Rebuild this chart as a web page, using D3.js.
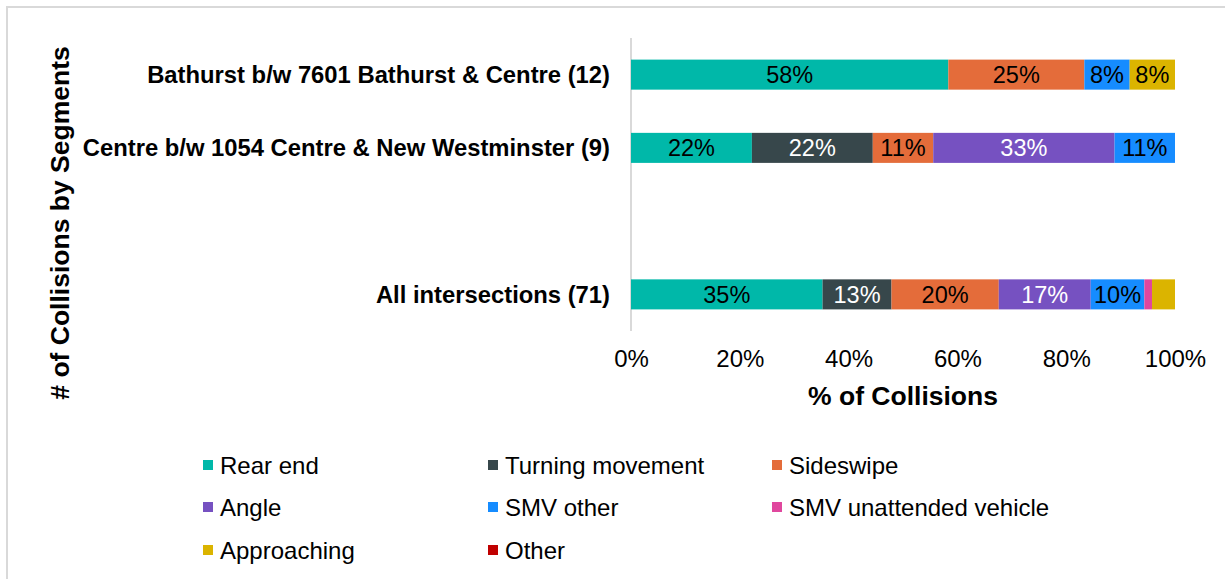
<!DOCTYPE html>
<html>
<head>
<meta charset="utf-8">
<script src="https://cdn.jsdelivr.net/npm/d3@7"></script>
<style>
  body { margin: 0; background: #fff; }
  text { font-family: "Liberation Sans", Arial, sans-serif; }
</style>
</head>
<body>
<div class="chart"></div>
<script>
// categories (top to bottom), "" is the empty slot between them
const categories = [
  "Bathurst b/w 7601 Bathurst & Centre (12)",
  "Centre b/w 1054 Centre & New Westminster (9)",
  "",
  "All intersections (71)"
];
const seriesNames = ["Rear end", "Turning movement", "Sideswipe", "Angle",
  "SMV other", "SMV unattended vehicle", "Approaching", "Other"];
const seriesColors = ["#00B8A9", "#37474B", "#E46C3A", "#7651C1",
  "#168CFF", "#E0479E", "#DBB400", "#C00000"];
// share of collisions per category, in series order
const bathurstValues = [7/12, 0, 3/12, 0, 1/12, 0, 1/12, 0];
const centreValues = [2/9, 2/9, 1/9, 3/9, 1/9, 0, 0, 0];
const allValues = [25/71, 9/71, 14/71, 12/71, 7/71, 1/71, 3/71, 0];
const xTicks = [0, 0.2, 0.4, 0.6, 0.8, 1];

const rows = [
  {cat: categories[0], values: bathurstValues},
  {cat: categories[1], values: centreValues},
  {cat: categories[3], values: allValues}
];

const W = 1225, H = 579;
const svg = d3.select(".chart").append("svg")
  .attr("width", W).attr("height", H);

// outer chart frame (runs off the right and bottom edges)
svg.append("rect")
  .attr("x", 7).attr("y", 7)
  .attr("width", W + 20).attr("height", H + 20)
  .attr("fill", "none").attr("stroke", "#d9d9d9").attr("stroke-width", 2);

const x = d3.scaleLinear().domain([0, 1]).range([631, 1175]);
const y = d3.scaleBand().domain(categories).range([38, 331]).paddingInner(0.59).paddingOuter(0.295);

// y axis line
svg.append("line")
  .attr("x1", x(0)).attr("x2", x(0))
  .attr("y1", 38).attr("y2", 331)
  .attr("stroke", "#d9d9d9").attr("stroke-width", 2);

// stacked bars
const darkText = new Set(["Turning movement", "Angle"]);
rows.forEach(row => {
  let acc = 0;
  row.values.forEach((v, i) => {
    if (v <= 0) return;
    const x0 = x(acc), x1 = x(acc + v);
    acc += v;
    svg.append("rect")
      .attr("x", x0).attr("y", y(row.cat))
      .attr("width", x1 - x0).attr("height", y.bandwidth())
      .attr("fill", seriesColors[i]);
    if (v >= 0.05) {
      svg.append("text")
        .attr("x", (x0 + x1) / 2)
        .attr("y", y(row.cat) + y.bandwidth() / 2)
        .attr("dy", "0.36em")
        .attr("text-anchor", "middle")
        .attr("font-size", 23.5)
        .attr("fill", darkText.has(seriesNames[i]) ? "#fff" : "#000")
        .text(Math.round(v * 100) + "%");
    }
  });
});

// category labels
svg.append("g").selectAll("text")
  .data(rows)
  .join("text")
  .attr("x", 610)
  .attr("y", d => y(d.cat) + y.bandwidth() / 2)
  .attr("dy", "0.36em")
  .attr("text-anchor", "end")
  .attr("font-size", 23.8)
  .attr("font-weight", "bold")
  .text(d => d.cat);

// x axis
const xAxis = svg.append("g")
  .attr("transform", "translate(0,347)")
  .call(d3.axisBottom(x).tickValues(xTicks).tickFormat(d3.format(".0%")).tickSize(0));
xAxis.select(".domain").remove();
xAxis.selectAll("text")
  .attr("font-family", "Liberation Sans, Arial, sans-serif")
  .attr("font-size", 24).attr("fill", "#000");

svg.append("text")
  .attr("x", 903).attr("y", 405)
  .attr("text-anchor", "middle")
  .attr("font-size", 26.5).attr("font-weight", "bold")
  .text("% of Collisions");

svg.append("text")
  .attr("transform", "translate(69,223) rotate(-90)")
  .attr("text-anchor", "middle")
  .attr("font-size", 26.5).attr("font-weight", "bold")
  .text("# of Collisions by Segments");

// legend: 3 columns
const legCols = [203, 488, 772];
const legRows = [465, 507, 550];
const legend = svg.append("g").selectAll("g")
  .data(seriesNames)
  .join("g")
  .attr("transform", (d, i) => `translate(${legCols[i % 3]},${legRows[Math.floor(i / 3)]})`);
legend.append("rect")
  .attr("x", 0).attr("y", -5).attr("width", 10).attr("height", 10)
  .attr("fill", (d, i) => seriesColors[i]);
legend.append("text")
  .attr("x", 17).attr("dy", "0.36em")
  .attr("font-size", 24)
  .text(d => d);
</script>
</body>
</html>
